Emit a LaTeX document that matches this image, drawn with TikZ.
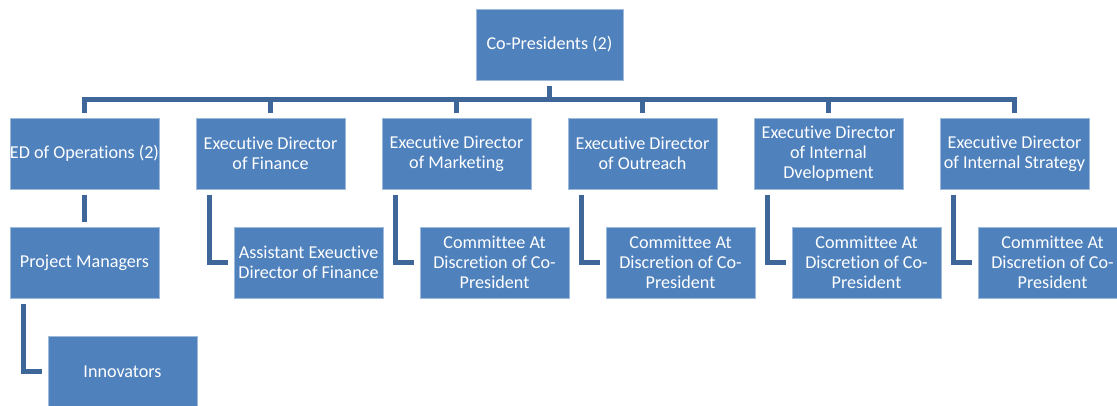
\documentclass[tikz,border=0pt]{standalone}
\usepackage{fontspec}
\setmainfont{Carlito}[Ligatures=NoCommon]
\usetikzlibrary{positioning}

\definecolor{boxblue}{RGB}{79,129,189}
\definecolor{linkblue}{RGB}{62,102,152}

\begin{document}
\begin{tikzpicture}[
    x=0.75pt, y=-0.75pt,
    node distance=28.5pt and 27.75pt,
    every node/.style={font=\fontsize{13.6}{15}\selectfont, align=center, text=white},
    box/.style={
        draw=boxblue!55!white, line width=0.6pt, fill=boxblue,
        minimum width=111.75pt, minimum height=53.25pt,
        inner xsep=0pt, outer sep=0pt
    },
    sub/.style={anchor=north west, xshift=28.5pt},
    link/.style={draw=linkblue, line width=3.75pt}
]
\useasboundingbox (0,0) rectangle (1117,406);

% --- Top: Co-Presidents ---
\node[box, minimum width=110.25pt] (copres) at (549.5,44.5) {Co-Presidents (2)};

% --- Row of executive directors ---
\node[box] (ops) at (84.5,153.5) {ED of Operations (2)};
\node[box, right=of ops] (fin) {Executive Director\\of Finance};
\node[box, right=of fin] (mkt) {Executive Director\\of Marketing};
\node[box, right=of mkt] (outr) {Executive Director\\of Outreach};
\node[box, right=of outr] (idev) {Executive Director\\of Internal\\Dvelopment};
\node[box, right=of idev] (strat) {Executive Director\\of Internal Strategy};

% --- Below each director ---
\node[box, below=of ops] (pm) {Project Managers};
\node[box, below=of pm.south west, sub] (innov) {Innovators};
\node[box, below=of fin.south west, sub] (asst) {Assistant Exeuctive\\Director of Finance};
\node[box, below=of mkt.south west, sub] (cmkt) {Committee At\\Discretion of Co-\\President};
\node[box, below=of outr.south west, sub] (cout) {Committee At\\Discretion of Co-\\President};
\node[box, below=of idev.south west, sub] (cidev) {Committee At\\Discretion of Co-\\President};
\node[box, below=of strat.south west, sub] (cstrat) {Committee At\\Discretion of Co-\\President};

% --- Bus from the top to the directors ---
\coordinate (bus) at (0,99.5);
\draw[link] ([yshift=-4.5pt]copres.south) -- (copres.south |- bus);
\draw[link] ([yshift=3.75pt]ops.north) -- (ops.north |- bus)
    -- (strat.north |- bus) -- ([yshift=3.75pt]strat.north);
\foreach \n in {fin, mkt, outr, idev}
    \draw[link] (\n.north |- bus) -- ([yshift=3.75pt]\n.north);

% --- Straight link and elbows ---
\draw[link] ([yshift=-4.5pt]ops.south) -- ([yshift=3.75pt]pm.north);
\foreach \p/\c in {pm/innov, fin/asst, mkt/cmkt, outr/cout, idev/cidev, strat/cstrat}
    \draw[link] ([xshift=10pt, yshift=-4.5pt]\p.south west) |- ([xshift=-4.5pt]\c.west);

\end{tikzpicture}
\end{document}
